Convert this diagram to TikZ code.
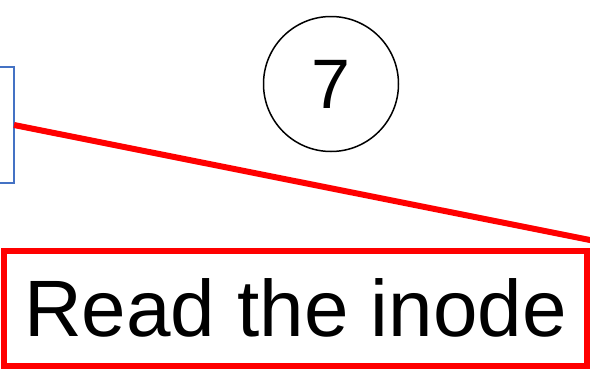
\documentclass[tikz,border=0pt]{standalone}
\usepackage{fontspec}
\setmainfont{Liberation Sans}
\usetikzlibrary{positioning}
\definecolor{azul}{HTML}{4472C4}

\begin{document}
\begin{tikzpicture}[x=1pt, y=-1pt,
    caixa/.style={draw=azul, line width=1.3pt, outer sep=0pt},
    passo/.style={draw, circle, line width=1.5pt, inner sep=0pt, minimum size=135pt, font=\fontsize{70}{70}\selectfont},
    destaque/.style={draw=red, line width=6pt, outer sep=0pt, font=\fontsize{80}{80}\selectfont}]
    \useasboundingbox (0,0) rectangle (590,368);

    % Caixa azul (cortada na borda)
    \node[caixa, minimum width=120pt, minimum height=116pt, anchor=east] (inode) at (14,125) {};

    % Numero do passo
    \node[passo] (sete) at (331,84) {7};

    % Caixa vermelha
    \node[destaque, minimum width=583pt, minimum height=115pt] (ler) at (295.5,308) {Read the inode};

    % Ligacao
    \coordinate (fim) at (600,242);
    \draw[red, line width=6pt] (inode.east) -- (fim);
\end{tikzpicture}
\end{document}
